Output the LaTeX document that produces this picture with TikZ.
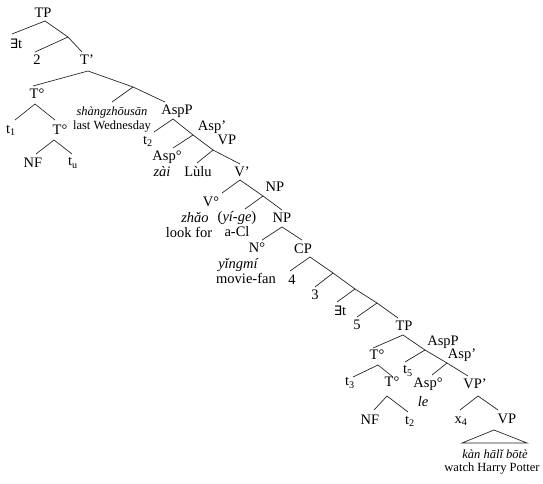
\documentclass[tikz,border=0pt]{standalone}
\usepackage{fontspec}
\setmainfont{Liberation Serif}
\newfontfamily\symfont{DejaVu Sans}
\newcommand{\Ex}{{\symfont\fontsize{13}{14}\selectfont ∃}}
\begin{document}
\begin{tikzpicture}[x=1pt,y=-1pt,
  lab/.style={inner sep=0pt, font=\fontsize{14.5}{16}\selectfont},
  itl/.style={inner sep=0pt, font=\fontsize{14.5}{16}\selectfont\itshape},
  sml/.style={inner sep=0pt, font=\fontsize{12.5}{14}\selectfont},
  smli/.style={inner sep=0pt, font=\fontsize{12.5}{14}\selectfont\itshape},
  br/.style={line width=0.7pt, draw=black!85}]
\useasboundingbox (0,0) rectangle (543,484);

% ---------- labels ----------
\node[lab] (TP0) at (43,13) {TP};
\node[lab] (Et0) at (16,44) {\Ex t};
\node[lab] (two) at (37,60) {2};
\node[lab] (Tbar) at (87,60) {T’};
\node[lab] (T0a) at (37,94) {T°};
\node[smli] (shang) at (112,112) {shàngzhōusān};
\node[sml] (lastw) at (112,127) {last Wednesday};
\node[lab] (AspP1) at (177,111) {AspP};
\node[lab] (t1) at (11,130) {t\textsubscript{1}};
\node[lab] (T0b) at (60,130) {T°};
\node[lab] (NF1) at (33,163) {NF};
\node[lab] (tu) at (73,163) {t\textsubscript{u}};
\node[lab] (t2a) at (148,141) {t\textsubscript{2}};
\node[lab] (Aspb1) at (212,127) {Asp’};
\node[lab] (Asp0a) at (167,157) {Asp°};
\node[itl] (zai) at (162,172) {zài};
\node[lab] (VP1) at (227,140) {VP};
\node[lab] (Lulu) at (198,172) {Lùlu};
\node[lab] (Vbar) at (242,172) {V’};
\node[lab] (NP1) at (275,187) {NP};
\node[lab] (V0) at (211,202) {V°};
\node[itl] (zhao) at (195,218) {zhǎo};
\node[lab] (lookfor) at (189,232) {look for};
\node[lab] (yige) at (237,218) {(\textit{yí-ge})};
\node[lab] (aCl) at (237,232) {a-Cl};
\node[lab] (NP2) at (282,218) {NP};
\node[lab] (N0) at (257,248) {N°};
\node[lab] (CP) at (303,249) {CP};
\node[itl] (yingmi) at (238,265) {yǐngmí};
\node[lab] (moviefan) at (246,278) {movie-fan};
\node[lab] (four) at (292,280) {4};
\node[lab] (three) at (315,295) {3};
\node[lab] (Et1) at (340,311) {\Ex t};
\node[lab] (five) at (357,325) {5};
\node[lab] (TP1) at (404,326) {TP};
\node[lab] (T0c) at (377,355) {T°};
\node[lab] (AspP2) at (443,342) {AspP};
\node[lab] (t5) at (408,371) {t\textsubscript{5}};
\node[lab] (Aspb2) at (462,355) {Asp’};
\node[lab] (t3) at (350,383) {t\textsubscript{3}};
\node[lab] (T0d) at (392,382) {T°};
\node[lab] (Asp0b) at (428,384) {Asp°};
\node[lab] (VPp) at (475,384) {VP’};
\node[itl] (le) at (423,402) {le};
\node[lab] (NF2) at (370,420) {NF};
\node[lab] (t2b) at (410,421) {t\textsubscript{2}};
\node[lab] (x4) at (461,421) {x\textsubscript{4}};
\node[lab] (VP2) at (507,419) {VP};
\node[smli] (kan) at (495,454) {kàn hālǐ bōtè};
\node[sml] (watch) at (492,469) {watch Harry Potter};

% ---------- branch points ----------
\coordinate (aTP0) at (45,21);
\coordinate (eEt0) at (12,34);
\coordinate (b1) at (68,37);
\coordinate (etwo) at (35,52);
\coordinate (eTbar) at (82,52);
\coordinate (aTbar) at (88,71);
\coordinate (eT0a) at (33,86);
\coordinate (b2) at (133,87);
\coordinate (eshang) at (112,102);
\coordinate (eAspP1) at (165,102);
\coordinate (aT0a) at (35,104);
\coordinate (et1) at (15,120);
\coordinate (eT0b) at (55,120);
\coordinate (aT0b) at (54,140);
\coordinate (eNF1) at (36,154);
\coordinate (etu) at (72,154);
\coordinate (aAspP1) at (173,119);
\coordinate (et2a) at (154,132);
\coordinate (aAspb1) at (193,135);
\coordinate (eAsp0a) at (173,148);
\coordinate (aVP1) at (213,150);
\coordinate (eLulu) at (197,163);
\coordinate (eVbar) at (240,164);
\coordinate (aVbar) at (240,180);
\coordinate (eV0) at (222,193);
\coordinate (aNP1) at (263,196);
\coordinate (eyige) at (245,209);
\coordinate (eNP2) at (282,210);
\coordinate (aNP2) at (282,227);
\coordinate (eN0) at (262,240);
\coordinate (eCP) at (302,240);
\coordinate (aCP) at (310,257);
\coordinate (efour) at (290,271);
\coordinate (b3) at (333,273);
\coordinate (ethree) at (315,287);
\coordinate (b4) at (355,289);
\coordinate (eEt1) at (337,302);
\coordinate (b5) at (377,303);
\coordinate (efive) at (357,317);
\coordinate (eTP1) at (398,318);
\coordinate (aTP1) at (403,335);
\coordinate (eT0c) at (373,348);
\coordinate (aAspP2) at (425,350);
\coordinate (et5) at (405,362);
\coordinate (aAspb2) at (447,363);
\coordinate (eAsp0b) at (432,375);
\coordinate (eVPp) at (468,376);
\coordinate (aT0c) at (378,365);
\coordinate (et3) at (353,377);
\coordinate (eT0d) at (393,377);
\coordinate (aT0d) at (387,396);
\coordinate (eNF2) at (374,410);
\coordinate (et2b) at (408,412);
\coordinate (aVPp) at (478,396);
\coordinate (ex4) at (460,410);
\coordinate (eVP2) at (498,410);
\coordinate (aVP2) at (494,430);
\coordinate (tl) at (462,443);
\coordinate (tr) at (527,443);

% ---------- branches ----------
\draw[br] (eEt0) -- (aTP0) -- (b1);
\draw[br] (etwo) -- (b1) -- (eTbar);
\draw[br] (eT0a) -- (aTbar) -- (b2);
\draw[br] (eshang) -- (b2) -- (eAspP1);
\draw[br] (et1) -- (aT0a) -- (eT0b);
\draw[br] (eNF1) -- (aT0b) -- (etu);
\draw[br] (et2a) -- (aAspP1) -- (aAspb1);
\draw[br] (eAsp0a) -- (aAspb1) -- (aVP1);
\draw[br] (eLulu) -- (aVP1) -- (eVbar);
\draw[br] (eV0) -- (aVbar) -- (aNP1);
\draw[br] (eyige) -- (aNP1) -- (eNP2);
\draw[br] (eN0) -- (aNP2) -- (eCP);
\draw[br] (efour) -- (aCP) -- (b3);
\draw[br] (ethree) -- (b3) -- (b4);
\draw[br] (eEt1) -- (b4) -- (b5);
\draw[br] (efive) -- (b5) -- (eTP1);
\draw[br] (eT0c) -- (aTP1) -- (aAspP2);
\draw[br] (et5) -- (aAspP2) -- (aAspb2);
\draw[br] (eAsp0b) -- (aAspb2) -- (eVPp);
\draw[br] (et3) -- (aT0c) -- (eT0d);
\draw[br] (eNF2) -- (aT0d) -- (et2b);
\draw[br] (ex4) -- (aVPp) -- (eVP2);
\draw[br] (tl) -- (aVP2) -- (tr) -- cycle;
\end{tikzpicture}
\end{document}
